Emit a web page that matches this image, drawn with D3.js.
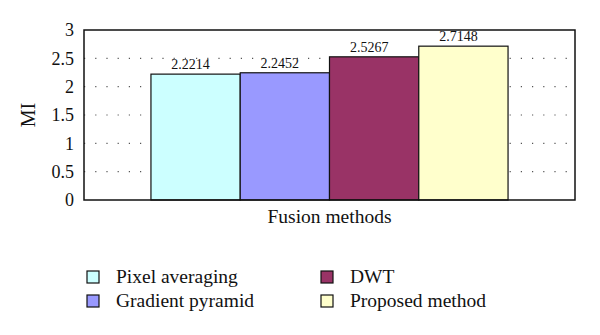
<!DOCTYPE html>
<html>
<head>
<meta charset="utf-8">
<script src="https://cdn.jsdelivr.net/npm/d3@7"></script>
<style>
body { margin: 0; background: #fff; }
</style>
</head>
<body>
<svg id="chart"></svg>
<script>
var methods = ["Pixel averaging", "Gradient pyramid", "DWT", "Proposed method"]
var miValues = [2.2214, 2.2452, 2.5267, 2.7148]
var barColors = ["#ccffff", "#9999ff", "#993366", "#ffffcc"]
var yTicks = [0, 0.5, 1, 1.5, 2, 2.5, 3]
var gridTicks = [0.5, 1, 1.5, 2, 2.5]

var serif = "'Liberation Serif', 'DejaVu Serif', serif"

var screen = {width: 600, height: 335}
var margins = {left: 84, right: 25, top: 30, bottom: 135}

var graph =
    {
        width: screen.width - margins.left - margins.right,
        height: screen.height - margins.top - margins.bottom
    }

var svg = d3.select("#chart")
    .attr("width", screen.width)
    .attr("height", screen.height)

var target = svg.append("g")
    .attr("transform", "translate(" + margins.left + "," + margins.top + ")")

var xScale = d3.scaleBand()
    .domain(methods)
    .range([0, graph.width])
    .paddingInner(0)
    .paddingOuter(0.75)

var yScale = d3.scaleLinear()
    .domain([0, 3])
    .range([graph.height, 0])

// dotted grid lines
target.append("g")
    .selectAll("line")
    .data(gridTicks)
    .enter()
    .append("line")
    .attr("x1", 0)
    .attr("x2", graph.width)
    .attr("y1", function(d) { return yScale(d) })
    .attr("y2", function(d) { return yScale(d) })
    .attr("stroke", "#555")
    .attr("stroke-width", 1.2)
    .attr("stroke-dasharray", "1.2,10")

// bars
target.append("g")
    .selectAll("rect")
    .data(miValues)
    .enter()
    .append("rect")
    .attr("x", function(d, i) { return xScale(methods[i]) })
    .attr("y", function(d) { return yScale(d) })
    .attr("width", xScale.bandwidth())
    .attr("height", function(d) { return graph.height - yScale(d) })
    .attr("fill", function(d, i) { return barColors[i] })
    .attr("stroke", "#111")
    .attr("stroke-width", 1.2)

// value labels (sit a little left of bar centre in the original)
target.append("g")
    .selectAll("text")
    .data(miValues)
    .enter()
    .append("text")
    .attr("x", function(d, i) { return xScale(methods[i]) + xScale.bandwidth() / 2 - 5 })
    .attr("y", function(d) { return yScale(d) - 5 })
    .attr("text-anchor", "middle")
    .style("font-size", "14px")
    .text(function(d) { return d.toFixed(4) })

// plot frame
target.append("rect")
    .attr("width", graph.width)
    .attr("height", graph.height)
    .attr("fill", "none")
    .attr("stroke", "#111")
    .attr("stroke-width", 1.5)

// y axis
var yAxis = d3.axisLeft(yScale)
    .tickValues(yTicks)
    .tickSize(0)
    .tickPadding(10)
    .tickFormat(d3.format("~g"))

var axisG = target.append("g").call(yAxis)
axisG.select(".domain").remove()
axisG.selectAll("text")
    .style("font-size", "18px")

// axis labels
svg.append("text")
    .text("Fusion methods")
    .attr("text-anchor", "middle")
    .attr("x", margins.left + graph.width / 2)
    .attr("y", margins.top + graph.height + 23)
    .style("font-size", "19.5px")

svg.append("g")
    .attr("transform", "translate(35," + (margins.top + graph.height / 2) + ")")
    .append("text")
    .text("MI")
    .attr("text-anchor", "middle")
    .attr("transform", "rotate(270)")
    .style("font-size", "20px")

// legend
var legend = svg.append("g")
    .selectAll("g")
    .data(methods)
    .enter()
    .append("g")
    .attr("transform", function(d, i) {
        var col = Math.floor(i / 2)
        var row = i % 2
        return "translate(" + (87 + col * 234) + "," + (271 + row * 24) + ")"
    })

legend.append("rect")
    .attr("width", 12)
    .attr("height", 12)
    .attr("fill", function(d, i) { return barColors[i] })
    .attr("stroke", "#111")
    .attr("stroke-width", 1.2)

legend.append("text")
    .attr("x", 29)
    .attr("y", 12)
    .style("font-size", "19.5px")
    .text(function(d) { return d })

// same serif face for every label
svg.selectAll("text")
    .style("font-family", serif)
    .attr("fill", "#111")
</script>
</body>
</html>
